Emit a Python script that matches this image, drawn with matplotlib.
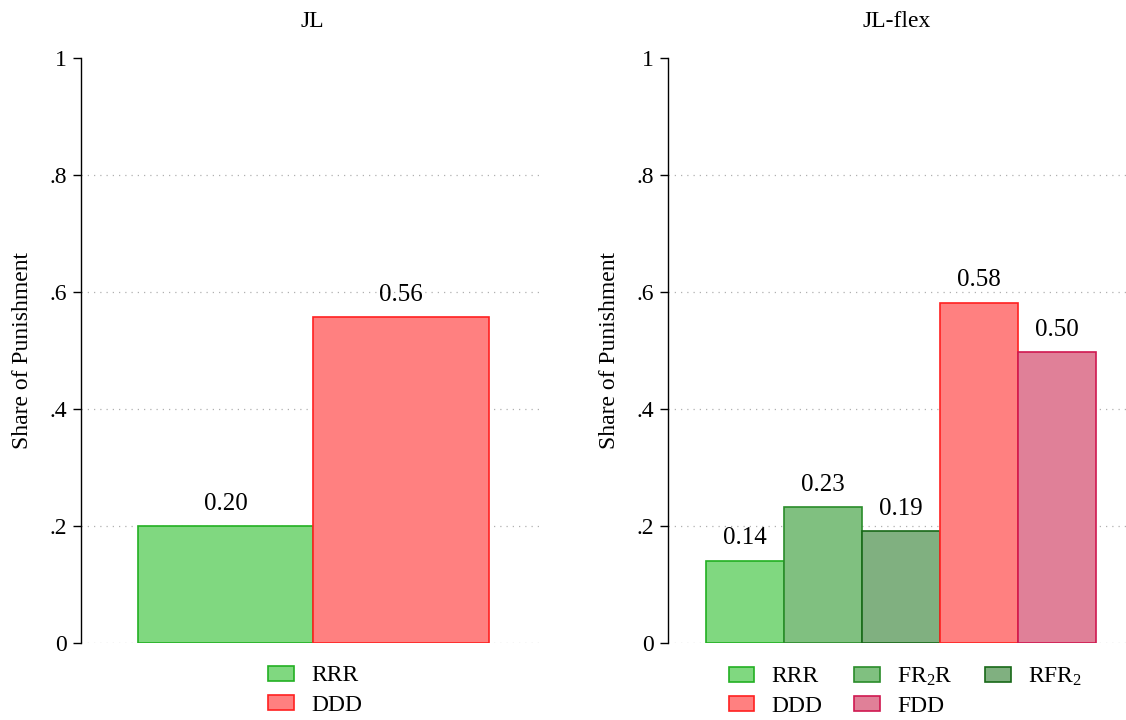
import numpy as np
import matplotlib
matplotlib.use("Agg")
import matplotlib.pyplot as plt
from matplotlib.patches import Patch

plt.rcParams['font.family'] = ['Liberation Serif', 'DejaVu Serif']
plt.rcParams['mathtext.fontset'] = 'custom'
plt.rcParams['mathtext.rm'] = 'Liberation Serif'
plt.rcParams['mathtext.it'] = 'Liberation Serif:italic'

# data
jl_groups = ['RRR', 'DDD']
jl_values = [0.20, 0.557]
flex_groups = ['RRR', r'FR$_2$R', r'RFR$_2$', 'DDD', 'FDD']
flex_values = [0.141, 0.232, 0.192, 0.582, 0.497]

# colours (fill, edge) per group
fills = {'RRR': '#80d880', r'FR$_2$R': '#80c080', r'RFR$_2$': '#80b080',
         'DDD': '#ff8080', 'FDD': '#e08098'}
edges = {'RRR': '#22b022', r'FR$_2$R': '#2a8c2a', r'RFR$_2$': '#186818',
         'DDD': '#ff2020', 'FDD': '#d01850'}

yticks = [0, 0.2, 0.4, 0.6, 0.8, 1]
ytick_labels = ['0', '.2', '.4', '.6', '.8', '1']

fig = plt.figure(figsize=(11.26, 7.2), dpi=100)
ax1 = fig.add_axes([81/1126, 1-643/720, 462/1126, 585/720])
ax2 = fig.add_axes([668/1126, 1-643/720, 458/1126, 585/720])


def draw_panel(ax, groups, values, title, xlim, ncol, legend_anchor):
    x = np.arange(len(groups))
    for g in yticks[:-1]:
        ax.axhline(g, color='#b0b0b0', lw=0.9, ls=(0, (1, 4)), zorder=0)
    ax.bar(x, values, width=1.0,
           color=[fills[g] for g in groups],
           edgecolor=[edges[g] for g in groups], linewidth=1.2, zorder=2)
    for xi, v in zip(x, values):
        ax.annotate('%.2f' % v, (xi, v), xytext=(0, 8), textcoords='offset points',
                    ha='center', va='bottom', fontsize=18)
    ax.set_xlim(*xlim)
    ax.set_ylim(0, 1)
    ax.set_yticks(yticks)
    ax.set_yticklabels(ytick_labels, fontsize=17)
    ax.tick_params(axis='y', length=6, width=1, direction='out', pad=4)
    ax.set_xticks([])
    for s in ['top', 'right', 'bottom']:
        ax.spines[s].set_visible(False)
    ax.spines['left'].set_linewidth(1.0)
    ax.set_ylabel('Share of Punishment', fontsize=17, labelpad=12)
    ax.set_title(title, fontsize=17, pad=22)

    handles = [Patch(facecolor=fills[g], edgecolor=edges[g], linewidth=1.2, label=g)
               for g in groups]
    if ncol == 3:
        # row-major order for matplotlib's column filling
        order = [0, 3, 1, 4, 2]
        handles = [handles[i] for i in order]
    ax.legend(handles=handles, ncol=ncol, loc='upper center',
              bbox_to_anchor=legend_anchor, frameon=False, fontsize=17,
              handlelength=1.1, handleheight=0.6, handletextpad=0.72,
              columnspacing=1.35, labelspacing=0.35, borderaxespad=0.55)


draw_panel(ax1, jl_groups, jl_values, 'JL', (-0.825, 1.81), 1, (0.507, 0.0))
draw_panel(ax2, flex_groups, flex_values, 'JL-flex', (-0.99, 4.88), 3, (0.518, 0.0))

fig.savefig('out.png', dpi=100)
